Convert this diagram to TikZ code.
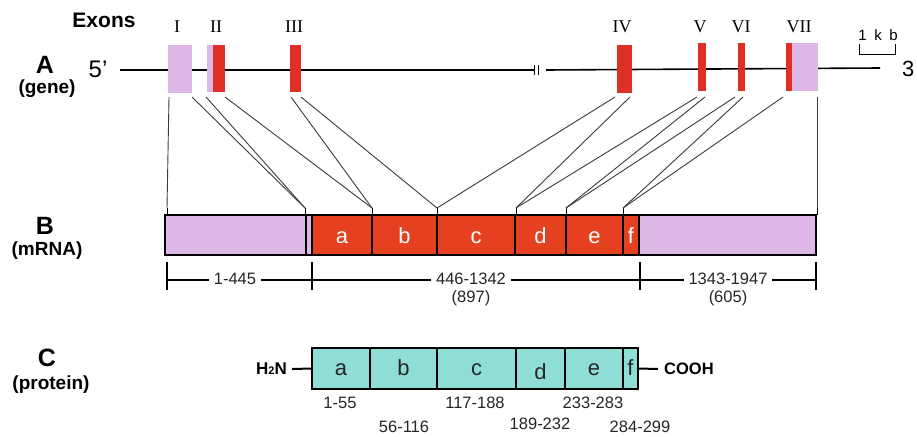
\documentclass[tikz,border=0pt]{standalone}
\usepackage{fontspec}
\setmainfont{Liberation Sans}
\newfontfamily\romfont{Liberation Serif}
\definecolor{pinkx}{HTML}{DDB7E6}
\definecolor{redx}{HTML}{E03026}
\definecolor{mred}{HTML}{E5401F}
\definecolor{tealx}{HTML}{8FDED6}
\definecolor{linex}{HTML}{3A3A3A}
\tikzset{
  exon/.style={inner sep=0pt, outer sep=0pt, draw=none},
  seg/.style={inner sep=0pt, outer sep=0pt, draw=black, line width=2.2pt},
  conn/.style={draw=linex, line width=0.9pt},
  tick/.style={draw=black, line width=1.1pt},
  numlab/.style={font=\fontsize{16.5}{17}\selectfont, text=black!85, inner sep=1pt},
  rom/.style={font=\romfont\fontsize{18}{18}\selectfont},
  bigl/.style={font=\bfseries\fontsize{25}{25}\selectfont},
  subl/.style={font=\bfseries\fontsize{19}{19}\selectfont},
  mlet/.style={font=\fontsize{22}{22}\selectfont, text=white, anchor=base, inner sep=0pt},
  plet/.style={font=\fontsize{22}{22}\selectfont, text=black!85, anchor=base, inner sep=0pt},
}
\begin{document}
\begin{tikzpicture}[x=1pt,y=-1pt]
\useasboundingbox (0,0) rectangle (917,436);
% ---------- labels ----------
\node[font=\bfseries\fontsize{21}{21}\selectfont] (exons) at (104,20) {Exons};
\node[bigl] (lA) at (45,65) {A};
\node[subl] (lgene) at (47,89) {(gene)};
\node[bigl] (lB) at (45,226) {B};
\node[subl] (lmrna) at (47,251) {(mRNA)};
\node[bigl] (lC) at (47,358) {C};
\node[subl] (lprot) at (51,385) {(protein)};
\node[font=\fontsize{24}{24}\selectfont] (five) at (98,69) {5’};
\node[font=\fontsize{22}{22}\selectfont, anchor=west, inner sep=0pt] (three) at (902,69) {3};
% ---------- gene line ----------
\coordinate (g0) at (120,70);
\coordinate (g1) at (535,70);
\coordinate (g2) at (546,70);
\coordinate (g3) at (880,68);
\draw[line width=2pt] (g0) -- (g1);
\draw[line width=1.6pt] (g2) -- (g3);
\draw[line width=0.8pt] (534,65) -- (534,75) (538,65) -- (538,75);
% ---------- exons ----------
\node[exon, fill=pinkx, minimum width=24pt, minimum height=48pt] (e1) at (180,69) {};
\node[exon, fill=pinkx, minimum width=6pt, minimum height=47pt] (e2p) at (210,68.5) {};
\node[exon, fill=redx, minimum width=12pt, minimum height=47pt] (e2) at (219,68.5) {};
\node[exon, fill=redx, minimum width=11pt, minimum height=47pt] (e3) at (295.5,68.5) {};
\node[exon, fill=redx, minimum width=15pt, minimum height=48pt] (e4) at (624.5,69) {};
\node[exon, fill=redx, minimum width=8pt, minimum height=48pt] (e5) at (702,67) {};
\node[exon, fill=redx, minimum width=7pt, minimum height=48pt] (e6) at (741.5,67) {};
\node[exon, fill=redx, minimum width=6pt, minimum height=48pt] (e7) at (789,67) {};
\node[exon, fill=pinkx, minimum width=26pt, minimum height=48pt] (e7p) at (805,67) {};
% roman numerals
\node[rom] (r1) at (177,27) {I};
\node[rom] (r2) at (216,27) {II};
\node[rom] (r3) at (294,27) {III};
\node[rom] (r4) at (622,27) {IV};
\node[rom] (r5) at (700,27) {V};
\node[rom] (r6) at (741,27) {VI};
\node[rom] (r7) at (799,27) {VII};
% scale bar
\node[font=\fontsize{15}{15}\selectfont] (kb) at (878,35) {1\,\,\,k\,\,\,b};
\draw[line width=0.8pt] (859,44) -- (859,54) -- (895,54) -- (895,44);
% ---------- mRNA ----------
\node[seg, fill=pinkx, minimum width=141pt, minimum height=40pt] (m0) at (235.5,235) {};
\node[seg, fill=pinkx, minimum width=6pt, minimum height=40pt] (m0b) at (309,235) {};
\node[seg, fill=mred, minimum width=60pt, minimum height=40pt] (ma) at (342,235) {};
\node[seg, fill=mred, minimum width=65pt, minimum height=40pt] (mb) at (404.5,235) {};
\node[seg, fill=mred, minimum width=78pt, minimum height=40pt] (mc) at (476,235) {};
\node[seg, fill=mred, minimum width=51pt, minimum height=40pt] (md) at (540.5,235) {};
\node[seg, fill=mred, minimum width=57pt, minimum height=40pt] (me) at (594.5,235) {};
\node[seg, fill=mred, minimum width=16pt, minimum height=40pt] (mf) at (631,235) {};
\node[seg, fill=pinkx, minimum width=177pt, minimum height=40pt] (m3) at (727.5,235) {};
\node[mlet] at (ma.center |- 0,243) {a};
\node[mlet] at (mb.center |- 0,243) {b};
\node[mlet] at (mc.center |- 0,243) {c};
\node[mlet] at (md.center |- 0,243) {d};
\node[mlet] at (me.center |- 0,243) {e};
\node[mlet] at (mf.center |- 0,243) {f};
% junction points
\coordinate (j0) at (167,208);
\coordinate (j1) at (305,208);
\coordinate (j2) at (372,208);
\coordinate (j3) at (437,208);
\coordinate (j4) at (516,208);
\coordinate (j5) at (566,208);
\coordinate (j6) at (623,208);
\coordinate (j7) at (817,208);
\foreach \j in {j0,j1,j2,j3,j4,j5,j6,j7} {
  \draw[tick, line width=0.9pt] (\j) -- ++(0,7);
}
% connectors exon -> mRNA
\draw[conn] ([shift={(1,4)}]e1.south west) -- (j0);
\draw[conn] ([yshift=-4pt]e1.south east) -- (j1);
\draw[conn] ([shift={(-1,5)}]e2p.south west) -- (j1);
\draw[conn] ([yshift=-5pt]e2.south east) -- (j2);
\draw[conn] ([shift={(1,5)}]e3.south west) -- (j2);
\draw[conn] ([yshift=-5pt]e3.south east) -- (j3);
\draw[conn] ([shift={(-2,4)}]e4.south west) -- (j3);
\draw[conn] ([shift={(-2,4)}]e4.south east) -- (j4);
\draw[conn] ([shift={(-1,6)}]e5.south west) -- (j4);
\draw[conn] ([shift={(-1,6)}]e5.south east) -- (j5);
\draw[conn] ([shift={(-3,6)}]e6.south west) -- (j5);
\draw[conn] ([shift={(-2,6)}]e6.south east) -- (j6);
\draw[conn] ([shift={(-3,6)}]e7.south west) -- (j6);
\draw[conn] ([shift={(-1,6)}]e7p.south east) -- (j7);
% ---------- ranges ----------
\coordinate (t0) at (167,262);
\coordinate (t1) at (312,262);
\coordinate (t2) at (640,262);
\coordinate (t3) at (816,262);
\coordinate (h0) at (167,280);
\coordinate (h3) at (816,280);
\foreach \t in {t0,t1,t2,t3} { \draw[tick] (\t) -- ++(0,28); }
\draw[line width=1.1pt] (h0) -- (h3);
\node[numlab, fill=white, inner xsep=5pt] (n1) at (235,279) {1-445};
\node[numlab, fill=white, inner xsep=5pt] (n2) at (471,279) {446-1342};
\node[numlab] (n2b) at (471,298) {(897)};
\node[numlab, fill=white, inner xsep=5pt] (n3) at (728,279) {1343-1947};
\node[numlab] (n3b) at (728,298) {(605)};
% ---------- protein ----------
\node[seg, line width=2pt, fill=tealx, minimum width=58pt, minimum height=41pt] (pa) at (341,368.5) {};
\node[seg, line width=2pt, fill=tealx, minimum width=67pt, minimum height=41pt] (pb) at (403.5,368.5) {};
\node[seg, line width=2pt, fill=tealx, minimum width=79pt, minimum height=41pt] (pc) at (476.5,368.5) {};
\node[seg, line width=2pt, fill=tealx, minimum width=49pt, minimum height=41pt] (pd) at (540.5,368.5) {};
\node[seg, line width=2pt, fill=tealx, minimum width=58pt, minimum height=41pt] (pe) at (594,368.5) {};
\node[seg, line width=2pt, fill=tealx, minimum width=15pt, minimum height=41pt] (pf) at (630.5,368.5) {};
\node[plet] at (pa.center |- 0,375) {a};
\node[plet] at (pb.center |- 0,375) {b};
\node[plet] at (pc.center |- 0,375) {c};
\node[plet] at (pd.center |- 0,379) {d};
\node[plet] at (pe.center |- 0,375) {e};
\node[plet] at (pf.center |- 0,375) {f};
\node[font=\bfseries\fontsize{17}{17}\selectfont, anchor=east, inner sep=0pt] (h2n) at (287,369) {H{\fontsize{11}{11}\selectfont 2}N};
\node[font=\bfseries\fontsize{16.5}{16.5}\selectfont, anchor=west, inner sep=0pt] (cooh) at (664,369) {COOH};
\draw[line width=2pt] ([xshift=5pt]h2n.east) -- (pa.west);
\draw[line width=2pt] (pf.east) -- ([xshift=-6pt]cooh.west);
\node[numlab] (p1) at (340,403) {1-55};
\node[numlab] (p2) at (404,427) {56-116};
\node[numlab] (p3) at (475,403) {117-188};
\node[numlab] (p4) at (540,424) {189-232};
\node[numlab] (p5) at (593,403) {233-283};
\node[numlab] (p6) at (640,427) {284-299};
\end{tikzpicture}
\end{document}
